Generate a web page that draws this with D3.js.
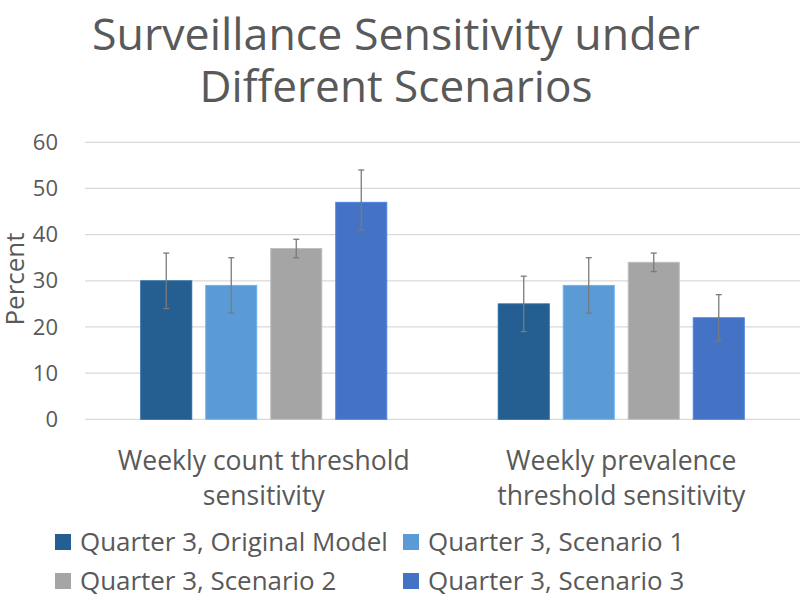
<!DOCTYPE html>
<html><head><meta charset="utf-8">
<script src="https://cdn.jsdelivr.net/npm/d3@7"></script>
<style>body{margin:0;background:#fff}svg{display:block}text{font-family:"Open Sans",sans-serif;fill:#595959}</style>
</head><body>
<svg id="c" width="800" height="598"></svg>
<script>
const categories = [["Weekly count threshold","sensitivity"],["Weekly prevalence","threshold sensitivity"]];
const seriesNames = ["Quarter 3, Original Model","Quarter 3, Scenario 1","Quarter 3, Scenario 2","Quarter 3, Scenario 3"];
const seriesColors = ["#255E91","#5B9BD5","#A5A5A5","#4472C4"];
const values = [[30,29,37,47],[25,29,34,22]];
const errLow = [[24,23,35,41],[19,23,32,17]];
const errHigh = [[36,35,39,54],[31,35,36,27]];
const yTicks = [0,10,20,30,40,50,60];
const titleLines = ["Surveillance Sensitivity under","Different Scenarios"];

const svg = d3.select("#c");
const m = {l:85, r:800, t:142.3, b:419.3};
const y = d3.scaleLinear().domain([0,60]).range([m.b,m.t]);
const x0 = d3.scaleBand().domain(d3.range(categories.length)).range([m.l,m.r]);
const x1 = d3.scaleBand().domain(d3.range(seriesNames.length)).range([0,x0.bandwidth()]).paddingInner(0.215).paddingOuter(0.857);

function fitWidth(sel, target){
  const w = sel.node().getComputedTextLength();
  const fs = +sel.attr("font-size");
  sel.attr("font-size", fs*target/w);
  return fs*target/w;
}

// grid
svg.append("g").selectAll("line").data(yTicks).join("line")
 .attr("x1",m.l).attr("x2",m.r).attr("y1",d=>y(d)).attr("y2",d=>y(d))
 .attr("stroke","#d9d9d9").attr("stroke-width",1.3);
// y labels
const yAxis = d3.axisLeft(y).tickValues(yTicks).tickSize(0).tickPadding(0);
const ga = svg.append("g").attr("transform","translate(58,0)").call(yAxis);
ga.select(".domain").remove();
ga.selectAll("text").attr("font-size",22).attr("fill","#595959").attr("font-family","Open Sans");

svg.append("text").attr("transform","translate(24,279) rotate(-90)").attr("text-anchor","middle")
 .attr("font-size",26).text("Percent");

// bars
const groups = svg.append("g").selectAll("g").data(values).join("g")
 .attr("transform",(d,i)=>`translate(${x0(i)},0)`);
groups.selectAll("rect").data(d=>d).join("rect")
 .attr("x",(d,j)=>x1(j)).attr("width",x1.bandwidth())
 .attr("y",d=>y(d)).attr("height",d=>y(0)-y(d))
 .attr("fill",(d,j)=>seriesColors[j])
 .attr("stroke",(d,j)=>d3.color(seriesColors[j]).brighter(0.4)).attr("stroke-width",1);
// error bars
groups.each(function(d,i){
  const g = d3.select(this);
  d.forEach((v,j)=>{
    const cx = x1(j)+x1.bandwidth()/2;
    const lo = y(errLow[i][j]), hi = y(errHigh[i][j]);
    g.append("line").attr("x1",cx).attr("x2",cx).attr("y1",lo).attr("y2",hi).attr("stroke","#7a7a7a").attr("stroke-width",1.3);
    [lo,hi].forEach(yy=>g.append("line").attr("x1",cx-3).attr("x2",cx+3).attr("y1",yy).attr("y2",yy).attr("stroke","#7a7a7a").attr("stroke-width",1.3));
  });
});

// category labels
const probe = svg.append("text").attr("font-size",24).text(categories[0][0]);
const catFs = fitWidth(probe, 292); probe.remove();
categories.forEach((lines,i)=>{
  const cx = x0(i)+x0.bandwidth()/2;
  lines.forEach((t,k)=>svg.append("text").attr("x",cx).attr("y",470+k*35).attr("text-anchor","middle").attr("font-size",catFs).text(t));
});

// title
const titleW = [608,393];
titleLines.forEach((t,k)=>{
  const tx = svg.append("text").attr("x",396).attr("y",50+k*52).attr("text-anchor","middle").attr("font-size",44).text(t);
  fitWidth(tx, titleW[k]);
});

// legend
const lp = svg.append("text").attr("font-size",22).text(seriesNames[0]);
const legFs = fitWidth(lp, 308); lp.remove();
const legPos = [[55,542],[403,542],[55,581],[403,581]];
seriesNames.forEach((n,j)=>{
  const [lx,ly] = legPos[j];
  svg.append("rect").attr("x",lx).attr("y",ly-8).attr("width",16).attr("height",16).attr("fill",seriesColors[j]);
  svg.append("text").attr("x",lx+25).attr("y",ly).attr("dy","0.35em").attr("font-size",legFs).text(n);
});
</script>
</body></html>
